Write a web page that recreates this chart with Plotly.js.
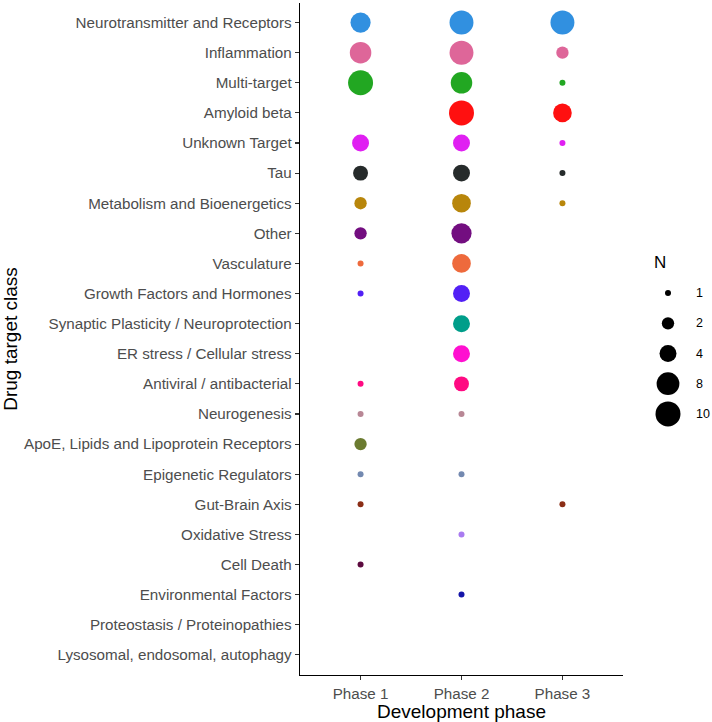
<!DOCTYPE html>
<html>
<head>
<meta charset="utf-8">
<script src="https://cdn.plot.ly/plotly-3.0.1.min.js"></script>
<style>html,body{margin:0;padding:0;background:#fff;}#chart{width:712px;height:722px;}</style>
</head>
<body>
<div id="chart"></div>
<script>
const categories = [
  "Neurotransmitter and Receptors", "Inflammation", "Multi-target", "Amyloid beta",
  "Unknown Target", "Tau", "Metabolism and Bioenergetics", "Other", "Vasculature",
  "Growth Factors and Hormones", "Synaptic Plasticity / Neuroprotection",
  "ER stress / Cellular stress", "Antiviral / antibacterial", "Neurogenesis",
  "ApoE, Lipids and Lipoprotein Receptors", "Epigenetic Regulators", "Gut-Brain Axis",
  "Oxidative Stress", "Cell Death", "Environmental Factors",
  "Proteostasis / Proteinopathies", "Lysosomal, endosomal, autophagy"
];
const phases = ["Phase 1", "Phase 2", "Phase 3"];
const nPhase1 = [6, 7, 10, null, 4, 3, 2, 2, 1, 1, null, null, 1, 1, 2, 1, 1, null, 1, null, null, null];
const nPhase2 = [9, 9, 7, 10, 4, 4, 5, 6, 5, 4, 4, 4, 3, 1, null, 1, null, 1, null, 1, null, null];
const nPhase3 = [9, 2, 1, 5, 1, 1, 1, null, null, null, null, null, null, null, null, null, 1, null, null, null, null, null];
const legendBreaks = [1, 2, 4, 8, 10];

const categoryColors = [
  "#3190E0", "#DE6699", "#22A722", "#FF1010", "#E020F2", "#262B2B", "#B8860B", "#730E80",
  "#EE6A3C", "#5220F5", "#009E8A", "#FF10D0", "#FF0A82", "#B88795", "#6B7B30", "#7389B0",
  "#8B2E16", "#A97BF0", "#5C0A3F", "#1414A8", "#888888", "#888888"
];

const nMin = 1, nMax = 10;
function dotSize(n) { return 6 + 19 * Math.sqrt((n - nMin) / (nMax - nMin)); }

const xs = [], ys = [], sizes = [], colors = [], texts = [];
[nPhase1, nPhase2, nPhase3].forEach((arr, p) => {
  arr.forEach((n, i) => {
    if (n === null) return;
    xs.push(p); ys.push(i); sizes.push(dotSize(n)); colors.push(categoryColors[i]);
    texts.push(categories[i] + ", " + phases[p] + ": " + n);
  });
});

const W = 712, H = 722, ML = 300, MR = 0, MT = 3, MB = 47;
const plotW = W - ML - MR, plotH = H - MT - MB;
const mainRight = 623;
const px2fx = x => (x - ML) / plotW;
const px2fy = y => (H - MB - y) / plotH;

const traces = [
  {
    type: "scatter", mode: "markers", x: xs, y: ys, text: texts, hoverinfo: "text",
    xaxis: "x", yaxis: "y",
    marker: { size: sizes, color: colors, line: { width: 0 }, opacity: 1 },
    showlegend: false
  },
  {
    type: "scatter", mode: "markers",
    x: legendBreaks.map(() => 0), y: legendBreaks.map((b, i) => i),
    xaxis: "x2", yaxis: "y2", hoverinfo: "skip",
    marker: { size: legendBreaks.map(dotSize), color: "#000000", line: { width: 0 }, opacity: 1 },
    showlegend: false
  }
];

const FAM = "Liberation Sans, Arial, Helvetica, sans-serif";
const tickFont = { family: FAM, size: 15.2, color: "#4D4D4D" };
const titleFont = { family: FAM, size: 19, color: "#000000" };

const annotations = legendBreaks.map((b, i) => ({
  xref: "x2", yref: "y2", x: 26, y: i, text: String(b), showarrow: false,
  xanchor: "left", yanchor: "middle",
  font: { family: FAM, size: 12.5, color: "#000000" }
}));
annotations.push({
  xref: "paper", yref: "paper", x: px2fx(652), y: px2fy(262), text: "N", showarrow: false,
  xanchor: "left", yanchor: "middle", font: { family: FAM, size: 17, color: "#000000" }
});

const layout = {
  width: W, height: H,
  margin: { l: ML, r: MR, t: MT, b: MB, pad: 0 },
  paper_bgcolor: "#ffffff", plot_bgcolor: "#ffffff",
  showlegend: false,
  xaxis: {
    domain: [0, px2fx(mainRight)],
    range: [-0.6, 2.6], tickvals: [0, 1, 2], ticktext: phases,
    showgrid: false, zeroline: false, showline: true, linecolor: "#000000", linewidth: 1.3,
    ticks: "outside", ticklen: 4, tickwidth: 1.1, tickcolor: "#333333",
    tickfont: tickFont, fixedrange: true,
    title: { text: "Development phase", font: titleFont, standoff: 3 }
  },
  yaxis: {
    range: [21.67, -0.65], tickvals: categories.map((c, i) => i), ticktext: categories,
    showgrid: false, zeroline: false, showline: true, linecolor: "#000000", linewidth: 1.3,
    ticks: "outside", ticklen: 4, tickwidth: 1.1, tickcolor: "#333333",
    tickfont: tickFont, fixedrange: true,
    title: { text: "Drug target class", font: titleFont, standoff: 3 }
  },
  xaxis2: {
    domain: [px2fx(640), 1], range: [-28, 44], anchor: "y2",
    visible: false, fixedrange: true
  },
  yaxis2: {
    domain: [px2fy(429), px2fy(278)], range: [4.5, -0.5], anchor: "x2",
    visible: false, fixedrange: true
  },
  annotations: annotations
};

Plotly.newPlot("chart", traces, layout, { displayModeBar: false, staticPlot: true });
</script>
</body>
</html>
